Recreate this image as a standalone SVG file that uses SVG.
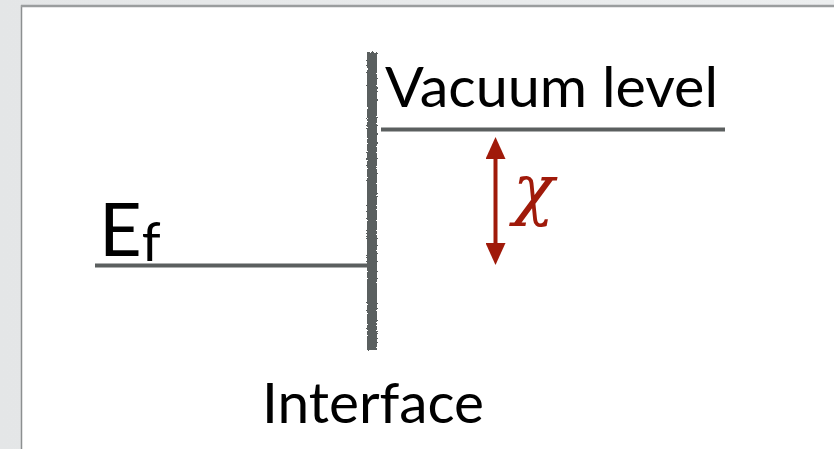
<svg xmlns="http://www.w3.org/2000/svg" width="834" height="449" viewBox="0 0 834 449">
<defs>
<linearGradient id="bg" x1="0" y1="0" x2="1" y2="0">
<stop offset="0" stop-color="#e4e6e7"/><stop offset="1" stop-color="#eceeef"/>
</linearGradient>
<filter id="rough" x="-50%" y="-5%" width="200%" height="110%">
<feTurbulence type="fractalNoise" baseFrequency="0.6" numOctaves="2" seed="3"/>
<feDisplacementMap in="SourceGraphic" scale="3"/>
</filter>
<marker id="ah" viewBox="0 0 22 20" refX="2" refY="10" markerWidth="22" markerHeight="20" markerUnits="userSpaceOnUse" orient="auto-start-reverse">
<path d="M0,0 L22,10 L0,20 Z" fill="#a01a0a"/>
</marker>
<style>
.lbl{font-family:Lato,"Open Sans","Liberation Sans",sans-serif;fill:#000}
.level{stroke:#5b5f5f;stroke-width:4;fill:none}
</style>
</defs>
<rect width="834" height="449" fill="url(#bg)"/>
<rect x="21.5" y="6" width="820" height="450" fill="#fff" stroke="#8c8f90" stroke-width="1.5"/>
<line x1="21" y1="6" x2="834" y2="6" stroke="#9a9d9e" stroke-width="2.5"/>
<g id="interface">
<rect x="367" y="52" width="10" height="298" fill="#5a5e5e" filter="url(#rough)"/>
<text class="lbl" x="262" y="423" font-size="56" textLength="222" lengthAdjust="spacingAndGlyphs">Interface</text>
</g>
<g id="vacuum-level">
<line class="level" x1="381" y1="129.5" x2="725" y2="129.5"/>
<text class="lbl" x="385" y="107" font-size="57" textLength="333" lengthAdjust="spacingAndGlyphs">Vacuum level</text>
</g>
<g id="fermi-level">
<line class="level" x1="95" y1="265.5" x2="371" y2="265.5"/>
<text class="lbl" x="99" y="256" font-size="74">E<tspan font-size="54" dy="5">f</tspan></text>
</g>
<g id="connectors">
<line x1="495.5" y1="157" x2="495.5" y2="245" stroke="#a01a0a" stroke-width="4" marker-start="url(#ah)" marker-end="url(#ah)"/>
</g>
<g id="chi">
<text x="513" y="212" font-family="'DejaVu Serif',serif" font-style="italic" font-size="68" fill="#a01a0a">χ</text>
</g>
</svg>
